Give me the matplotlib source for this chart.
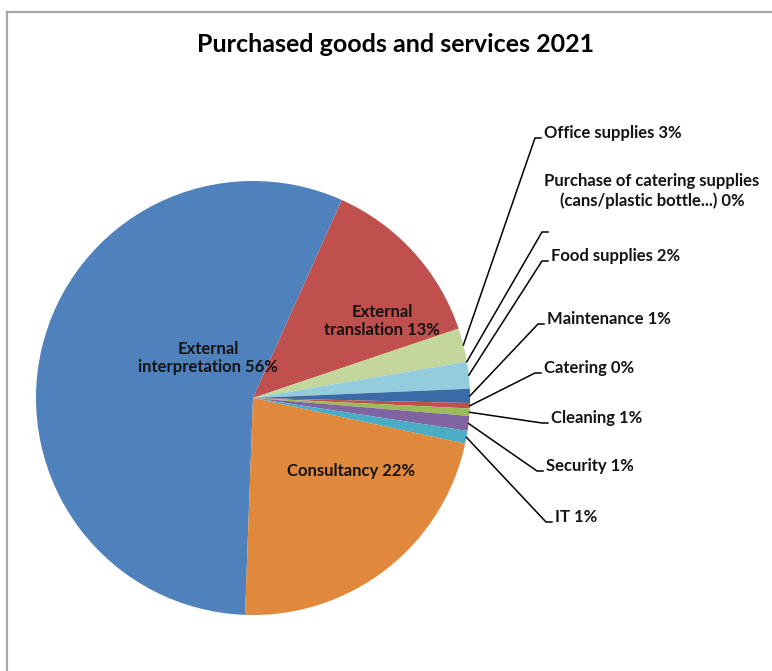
import matplotlib.pyplot as plt
import numpy as np
from matplotlib.lines import Line2D

plt.rcParams['font.family'] = ['Lato', 'DejaVu Sans']

# data (shares in %, order clockwise from the bottom)
categories = [
    "External interpretation", "External translation", "Office supplies",
    "Purchase of catering supplies (cans/plastic bottle...)", "",
    "Food supplies", "Maintenance", "Catering", "Cleaning", "Security", "IT",
    "Consultancy",
]
shares = [56.1, 13.1, 2.5, 0.0, 0.0, 2.0, 1.05, 0.4, 0.55, 1.1, 0.95, 22.2]
shown_pct = [56, 13, 3, 0, None, 2, 1, 0, 1, 1, 1, 22]
colors = ["#4F81BD", "#C0504D", "#C3D69B", "#8064A2", "#4BACC6", "#93CDDD",
          "#3A6BA6", "#C0504D", "#9BBB59", "#8064A2", "#4BACC6", "#E0883C"]

W, H = 772, 671
fig = plt.figure(figsize=(W / 100, H / 100), dpi=100)
ax = fig.add_axes([0, 0, 1, 1])


def fy(y):
    # image y (from top) -> axes y (from bottom)
    return H - y


cx, cy, r = 253, fy(398), 217
wedges, _ = ax.pie(shares, colors=colors, startangle=267.9, counterclock=False,
                   center=(cx, cy), radius=r, wedgeprops=dict(linewidth=0))
ax.set_xlim(0, W)
ax.set_ylim(0, H)
ax.axis('off')


def label_text(i):
    if shown_pct[i] is None:
        return ""
    return f"{categories[i]} {shown_pct[i]}%"


font = dict(fontsize=12, fontweight='bold', color='#141414')

# labels inside the big slices
ax.text(208, fy(358), "External\ninterpretation 56%", ha='center', va='center',
        ma='center', linespacing=1.2, **font)
ax.text(382, fy(321), "External\ntranslation 13%", ha='center', va='center',
        ma='center', linespacing=1.2, **font)
ax.text(351, fy(471), "Consultancy 22%", ha='center', va='center', **font)

# outer labels: index -> (text left x, text centre y)
outer = {
    2: (544, 133),
    5: (551, 256),
    6: (547, 319),
    7: (544, 368),
    8: (551, 418),
    9: (546, 466),
    10: (555, 517),
}
for i, (tx, ty) in outer.items():
    ax.text(tx, fy(ty), label_text(i), ha='left', va='center', **font)

# the long label has no leader line
ax.text(652, fy(191), "Purchase of catering supplies\n(cans/plastic bottle...) 0%",
        ha='center', va='center', ma='center', linespacing=1.25, **font)

# leader lines, the empty label one ends without text
leaders = dict(outer)
leaders[4] = (551, 227)
for i, (tx, ty) in leaders.items():
    w = wedges[i]
    mid = np.deg2rad((w.theta1 + w.theta2) / 2)
    x0, y0 = cx + r * np.cos(mid), cy + r * np.sin(mid)
    ex, ey = tx - 9, fy(ty + 5)
    ax.plot([x0, ex, tx - 3], [y0, ey, ey], color='black', lw=1.1,
            solid_joinstyle='miter')

ax.text(396, fy(45), "Purchased goods and services 2021", ha='center',
        va='center', fontsize=18, fontweight='bold', color='black')

# chart frame (only top and left visible in the crop)
fig.add_artist(Line2D([7 / W, 1], [1 - 12 / H, 1 - 12 / H], color='#A6A6A6', lw=1.6))
fig.add_artist(Line2D([7 / W, 7 / W], [0, 1 - 12 / H], color='#A6A6A6', lw=1.6))

fig.savefig('out.png', dpi=100, facecolor='white')
